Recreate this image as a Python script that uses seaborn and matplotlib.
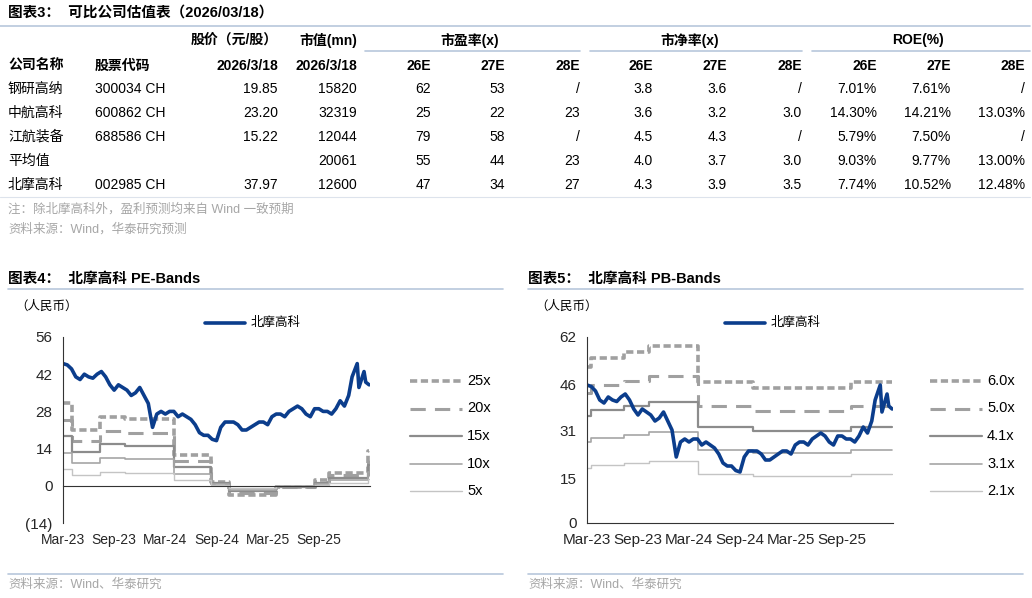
import numpy as np
import pandas as pd
import matplotlib
matplotlib.use("Agg")
import matplotlib.pyplot as plt
from matplotlib.lines import Line2D
import seaborn as sns

sns.set_style("white")
plt.rcParams['font.family'] = ['Liberation Sans', 'Noto Sans CJK SC']

# ---------------- data ----------------
companies = ["钢研高纳", "中航高科", "江航装备", "平均值", "北摩高科"]
codes = ["300034 CH", "600862 CH", "688586 CH", "", "002985 CH"]
price = ["19.85", "23.20", "15.22", "", "37.97"]
mcap = ["15820", "32319", "12044", "20061", "12600"]
pe = [["62", "53", "/"], ["25", "22", "23"], ["79", "58", "/"], ["55", "44", "23"], ["47", "34", "27"]]
pb = [["3.8", "3.6", "/"], ["3.6", "3.2", "3.0"], ["4.5", "4.3", "/"], ["4.0", "3.7", "3.0"], ["4.3", "3.9", "3.5"]]
roe = [["7.01%", "7.61%", "/"], ["14.30%", "14.21%", "13.03%"], ["5.79%", "7.50%", "/"],
       ["9.03%", "9.77%", "13.00%"], ["7.74%", "10.52%", "12.48%"]]

# stock price, months since Mar-23 (half-month steps)
price_x = [0, 0.5, 1, 1.5, 2, 2.5, 3, 3.5, 4, 4.5, 5, 5.5, 6, 6.5, 7, 7.5, 8, 8.5, 9, 9.5,
           10, 10.5, 11, 11.5, 12, 12.5, 13, 13.5, 14, 14.5, 15, 15.5, 16, 16.5, 17, 17.5,
           18, 18.5, 19, 19.5, 20, 20.5, 21, 21.5, 22, 22.5, 23, 23.5, 24, 24.5, 25, 25.5,
           26, 26.5, 27, 27.5, 28, 28.5, 29, 29.5, 30, 30.5, 31, 31.5, 32, 32.5, 33, 33.5,
           33.9, 34.5, 34.7, 35.3, 35.5, 35.9]
price_y = [46, 45.5, 44, 41, 40, 42, 41, 40.5, 42, 43, 41, 38, 36, 38, 37, 36, 34, 35, 37, 34,
           31, 22, 27, 28, 27, 28, 28, 26, 27, 26, 25, 23, 20, 19, 19, 17.5,
           17, 22, 24, 24, 24, 23, 21, 21, 22, 23, 24, 24, 23, 26, 27, 27,
           26, 28, 29, 30, 29, 27, 26, 29, 29, 28, 28, 27, 29, 32, 30, 34,
           41, 46, 37, 43, 39, 38]

# PE bands: EPS step function
pe_breaks = [0, 1, 4.3, 7.3, 13, 17.3, 19.5, 25, 29.5, 31.2, 35.8, 35.9]
pe_eps = [1.24, 0.84, 1.04, 1.0, 0.46, 0.06, -0.14, -0.02, 0.08, 0.2, 0.52, 0.52]
pe_mult = [25, 20, 15, 10, 5]
# PB bands: BVPS step function
pb_breaks = [0, 0.5, 4.3, 7.3, 13, 19.5, 31, 35.9]
pb_bvps = [8.67, 9.17, 9.5, 9.83, 7.83, 7.5, 7.83, 7.83]
pb_mult = [6.0, 5.0, 4.1, 3.1, 2.1]

xticks = [0, 6, 12, 18, 24, 30]
xlabels = ["Mar-23", "Sep-23", "Mar-24", "Sep-24", "Mar-25", "Sep-25"]

# ---------------- figure ----------------
W, H = 1032, 598
fig = plt.figure(figsize=(W / 100, H / 100), dpi=100)

def fx(px): return px / W
def fy(py): return 1 - py / H

def txt(x, y, s, ha="left", size=10, weight="normal", color="black"):
    fig.text(fx(x), fy(y), s, ha=ha, va="center", fontsize=size, weight=weight, color=color)

def hline(x0, x1, y, color="#b8c7dc", lw=1.2):
    fig.add_artist(Line2D([fx(x0), fx(x1)], [fy(y), fy(y)], color=color, lw=lw))

# table
txt(8, 13, "图表3：  可比公司估值表（2026/03/18）", size=10.5, weight="bold")
hline(0, 1030, 26)
txt(278, 40, "股价（元/股）", ha="right", weight="bold")
txt(357, 40, "市值(mn)", ha="right", weight="bold")
txt(470, 40, "市盈率(x)", ha="center", weight="bold")
txt(690, 40, "市净率(x)", ha="center", weight="bold")
txt(918, 40, "ROE(%)", ha="center", weight="bold")
hline(365, 580, 51); hline(590, 802, 51); hline(812, 1030, 51)
txt(8, 66, "公司名称", weight="bold"); txt(95, 66, "股票代码", weight="bold")
txt(278, 66, "2026/3/18", ha="right", weight="bold"); txt(357, 66, "2026/3/18", ha="right", weight="bold")
colx = [431, 505, 580, 653, 727, 802, 877, 951, 1025]
for i, h in enumerate(["26E", "27E", "28E"] * 3):
    txt(colx[i], 66, h, ha="right", weight="bold")
rows_y = [89, 113, 137, 161, 185]
for r, y in enumerate(rows_y):
    txt(8, y, companies[r]); txt(95, y, codes[r])
    txt(278, y, price[r], ha="right"); txt(357, y, mcap[r], ha="right")
    vals = pe[r] + pb[r] + roe[r]
    for i, v in enumerate(vals):
        txt(colx[i], y, v, ha="right")
hline(0, 1030, 197, color="#dde3ec", lw=0.8)
txt(8, 209, "注：除北摩高科外，盈利预测均来自 Wind 一致预期", color="#a6a6a6", size=9)
txt(8, 229, "资料来源：Wind，华泰研究预测", color="#a6a6a6", size=9)

blue = "#0b3d8c"
band_styles = [
    dict(color="#a0a0a0", lw=2.6, ls=(0, (2, 1))),
    dict(color="#a0a0a0", lw=2.2, ls=(0, (5, 3))),
    dict(color="#8c8c8c", lw=1.6, ls="-"),
    dict(color="#a6a6a6", lw=1.2, ls="-"),
    dict(color="#c4c4c4", lw=1.0, ls="-"),
]

def panel(x0, title, breaks, base, mults, labels, ylim, yticks, yticklabels, zero_axis):
    left, right, top, bottom = x0 + 63, x0 + 370, 337, 523
    if x0 > 0:
        left, right = x0 + 67, x0 + 373
    ax = fig.add_axes([fx(left), fy(bottom), fx(right - left), (bottom - top) / H])
    for m, st in zip(mults, band_styles):
        ax.step(breaks, [b * m for b in base], where="post", **st)
    df = pd.DataFrame({"x": price_x, "y": price_y})
    sns.lineplot(data=df, x="x", y="y", ax=ax, color=blue, lw=2.6)
    ax.set_xlim(0, 36)
    ax.set_ylim(*ylim)
    ax.set_yticks(yticks)
    ax.set_yticklabels(yticklabels, fontsize=11)
    ax.set_xticks(xticks)
    ax.set_xticklabels(xlabels, fontsize=11)
    ax.set_xlabel(""); ax.set_ylabel("")
    for s in ["top", "right"]:
        ax.spines[s].set_visible(False)
    for s in ["left", "bottom"]:
        ax.spines[s].set_color("#333333")
    if zero_axis:
        ax.spines["bottom"].set_position(("data", 0))
        ax.tick_params(axis="x", pad=30)
    ax.tick_params(axis="both", length=4, direction="out", color="#333333")
    txt(x0 + 8, 279, title, size=10.5, weight="bold")
    hline(x0 + 8, x0 + 503, 289)
    txt(x0 + 15, 307, "（人民币）", size=9)
    fig.add_artist(Line2D([fx(x0 + 205), fx(x0 + 245)], [fy(323)] * 2, color=blue, lw=2.6))
    txt(x0 + 251, 323, "北摩高科", size=9)
    for i, (lab, st) in enumerate(zip(labels, band_styles)):
        y = 381 + i * 27.5
        fig.add_artist(Line2D([fx(x0 + 410), fx(x0 + 462)], [fy(y)] * 2, **st))
        txt(x0 + 467, y, lab, size=10.5)
    hline(x0 + 8, x0 + 503, 574)
    txt(x0 + 8, 585, "资料来源：Wind、华泰研究", color="#a6a6a6", size=9)

panel(0, "图表4：  北摩高科 PE-Bands", pe_breaks, pe_eps, pe_mult,
      ["25x", "20x", "15x", "10x", "5x"], (-14, 56), [-14, 0, 14, 28, 42, 56],
      ["(14)", "0", "14", "28", "42", "56"], True)
panel(520, "图表5：  北摩高科 PB-Bands", pb_breaks, pb_bvps, pb_mult,
      ["6.0x", "5.0x", "4.1x", "3.1x", "2.1x"], (0, 62), [0, 15, 31, 46, 62],
      ["0", "15", "31", "46", "62"], False)

fig.savefig("out.png", dpi=100)
